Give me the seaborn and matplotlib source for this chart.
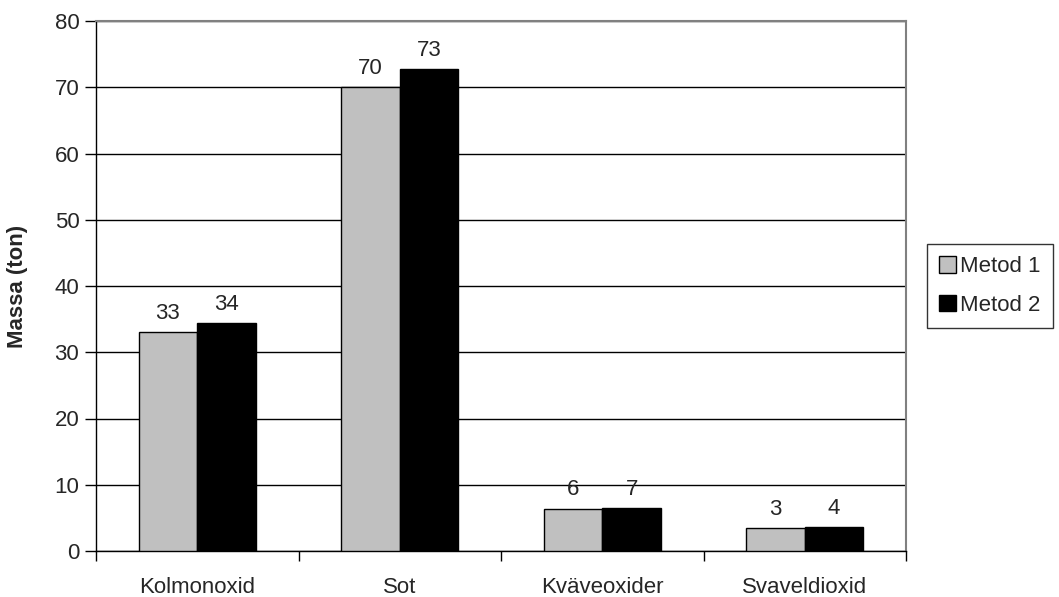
import math
import numpy as np
import pandas as pd
import matplotlib
matplotlib.use("Agg")
import matplotlib.pyplot as plt
import seaborn as sns

categories = ["Kolmonoxid", "Sot", "Kväveoxider", "Svaveldioxid"]
series_names = ["Metod 1", "Metod 2"]
metod1 = [33.0, 70.0, 6.4, 3.4]
metod2 = [34.4, 72.7, 6.5, 3.6]
y_ticks = [0, 10, 20, 30, 40, 50, 60, 70, 80]

sns.set_theme(style="white")
plt.rcParams["font.family"] = ["Liberation Sans", "DejaVu Sans"]

FS = 16

df = pd.DataFrame({
    "Kategori": categories * 2,
    "Metod": [series_names[0]] * 4 + [series_names[1]] * 4,
    "Massa": metod1 + metod2,
})

fig = plt.figure(figsize=(10.59, 5.97), dpi=100)
ax = fig.add_axes([96 / 1059, 46 / 597, 810 / 1059, 530 / 597])

sns.barplot(data=df, x="Kategori", y="Massa", hue="Metod",
            order=categories, hue_order=series_names,
            palette=["#c0c0c0", "#000000"], width=0.58,
            edgecolor="black", linewidth=1, saturation=1,
            errorbar=None, legend=True, ax=ax, zorder=3)

ax.set_xlim(-0.5, len(categories) - 0.5)
ax.set_ylim(0, 80)
ax.set_yticks(y_ticks)
ax.set_yticklabels([str(t) for t in y_ticks], fontsize=FS)
ax.yaxis.grid(True, color="black", linewidth=1, zorder=0)
ax.set_axisbelow(True)

# category labels at centres, tick marks between categories
ax.set_xticks(range(len(categories)))
ax.set_xticklabels(categories, fontsize=FS)
ax.set_xticks(np.arange(-0.5, len(categories)), minor=True)
ax.tick_params(axis="x", which="major", length=0, pad=19)
ax.tick_params(axis="x", which="minor", length=7, width=1, color="black",
               direction="out", bottom=True)
ax.tick_params(axis="y", length=8, width=1, color="black",
               direction="out", left=True, pad=4)

ax.set_xlabel("")
ax.set_ylabel("Massa (ton)", fontsize=FS, fontweight="bold", labelpad=19)

for side in ["left", "bottom"]:
    ax.spines[side].set_color("black")
    ax.spines[side].set_linewidth(1)
for side in ["top", "right"]:
    ax.spines[side].set_color("#808080")
    ax.spines[side].set_linewidth(1.5)

# value labels, rounded half up
for container in ax.containers:
    labels = [str(int(math.floor(b.get_height() + 0.5))) for b in container]
    ax.bar_label(container, labels=labels, padding=6, fontsize=FS)

handles, labels = ax.get_legend_handles_labels()
ax.get_legend().remove()
leg = fig.legend(handles, labels, loc="center left",
                 bbox_to_anchor=(927 / 1059, 1 - 286 / 597),
                 frameon=True, fancybox=False, fontsize=FS,
                 handlelength=0.75, handleheight=0.75, handletextpad=0.2,
                 labelspacing=0.8, borderpad=0.55, borderaxespad=0)
leg.get_frame().set_edgecolor("black")
leg.get_frame().set_linewidth(1)

fig.savefig("out.png", dpi=100)
